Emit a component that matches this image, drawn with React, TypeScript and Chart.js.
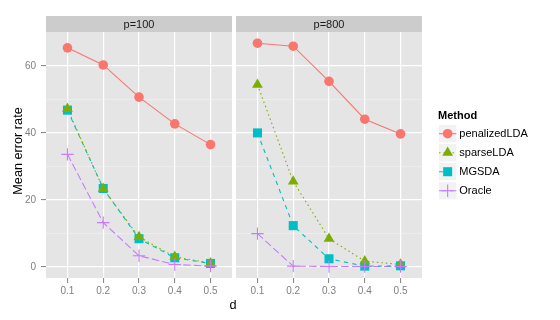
import React, { useEffect, useRef } from 'react';
import { Chart, registerables } from 'chart.js';

Chart.register(...registerables);

// ---------- data ----------
const dValues = [0.1, 0.2, 0.3, 0.4, 0.5];
const methods = ['penalizedLDA', 'sparseLDA', 'MGSDA', 'Oracle'];
const panelLabels = ['p=100', 'p=800'];
const yMajorTicks = [0, 20, 40, 60];
const yMinorTicks = [10, 30, 50];

const p100PenalizedLDA = [65.4, 60.3, 50.7, 42.7, 36.5];
const p100SparseLDA = [47.2, 23.3, 8.9, 3.0, 1.1];
const p100MGSDA = [46.8, 23.4, 8.4, 2.7, 1.0];
const p100Oracle = [33.6, 13.2, 3.3, 0.7, 0.2];

const p800PenalizedLDA = [66.8, 65.9, 55.4, 44.1, 39.7];
const p800SparseLDA = [54.4, 25.5, 8.4, 1.7, 0.7];
const p800MGSDA = [40.0, 12.3, 2.4, 0.2, 0.3];
const p800Oracle = [9.9, 0.2, 0.1, 0.1, 0.1];

const panelSeries = [
  [p100PenalizedLDA, p100SparseLDA, p100MGSDA, p100Oracle],
  [p800PenalizedLDA, p800SparseLDA, p800MGSDA, p800Oracle],
];

// ---------- styles ----------
const FONT = '"Liberation Sans", Arial, Helvetica, sans-serif';
const colors = ['#F8766D', '#7CAE00', '#00BFC4', '#C77CFF'];
const dashes = [[], [1.5, 3], [4.3, 4.3], [7.5, 3.2]];
const pointStyles = ['circle', 'triangle', 'rect', 'cross'];
const pointRadii = [4.8, 6.2, 6.4, 6.2];
const pointOrder = [3, 1, 2, 0];

const allVals = panelSeries.flat(2);
const dataMin = Math.min(0, ...allVals);
const dataMax = Math.max(...allVals);
const yPad = (dataMax - dataMin) * 0.05;
const Y_MIN = dataMin - yPad;
const Y_MAX = dataMax + yPad;
const xStep = dValues[1] - dValues[0];
const X_MIN = dValues[0] - 0.6 * xStep;
const X_MAX = dValues[dValues.length - 1] + 0.6 * xStep;

const yAllTicks = [...yMajorTicks, ...yMinorTicks].sort((a, b) => a - b);
const isMajor = (v: number) => yMajorTicks.includes(v);

function drawShape(ctx: CanvasRenderingContext2D, style: string, x: number, y: number, r: number, color: string) {
  ctx.save();
  ctx.fillStyle = color;
  ctx.strokeStyle = color;
  ctx.lineWidth = 1.1;
  ctx.setLineDash([]);
  ctx.beginPath();
  if (style === 'circle') {
    ctx.arc(x, y, r, 0, Math.PI * 2);
    ctx.fill();
  } else if (style === 'triangle') {
    ctx.moveTo(x, y - r);
    ctx.lineTo(x + 0.866 * r, y + 0.5 * r);
    ctx.lineTo(x - 0.866 * r, y + 0.5 * r);
    ctx.closePath();
    ctx.fill();
  } else if (style === 'rect') {
    const s = Math.SQRT1_2 * r;
    ctx.rect(x - s, y - s, 2 * s, 2 * s);
    ctx.fill();
  } else {
    ctx.moveTo(x - r, y);
    ctx.lineTo(x + r, y);
    ctx.moveTo(x, y - r);
    ctx.lineTo(x, y + r);
    ctx.stroke();
  }
  ctx.restore();
}

function decorPlugin(panelIdx: number) {
  return {
    id: 'decor' + panelIdx,
    beforeDraw(chart: any) {
      const { ctx, chartArea: a } = chart;
      ctx.save();
      ctx.fillStyle = '#E5E5E5';
      ctx.fillRect(a.left, a.top, a.right - a.left, a.bottom - a.top);
      ctx.fillStyle = '#CCCCCC';
      ctx.fillRect(a.left, 16, a.right - a.left, a.top - 16);
      ctx.fillStyle = '#1A1A1A';
      ctx.font = '11px ' + FONT;
      ctx.textAlign = 'center';
      ctx.textBaseline = 'alphabetic';
      ctx.fillText(panelLabels[panelIdx], (a.left + a.right) / 2, 27.8);
      ctx.restore();
    },
    afterDraw(chart: any) {
      const { ctx } = chart;
      ctx.save();
      ctx.fillStyle = '#000000';
      ctx.font = '12.7px ' + FONT;
      if (panelIdx === 0) {
        ctx.translate(21.7, 151);
        ctx.rotate(-Math.PI / 2);
        ctx.textAlign = 'center';
        ctx.textBaseline = 'alphabetic';
        ctx.fillText('Mean error rate', 0, 0);
      } else {
        ctx.textAlign = 'center';
        ctx.textBaseline = 'alphabetic';
        ctx.fillText('d', 233, 309);
        // legend
        ctx.textAlign = 'left';
        ctx.font = 'bold 11px ' + FONT;
        ctx.fillText('Method', 438, 118.5);
        methods.forEach((m, i) => {
          const cy = 133.7 + i * 19;
          const bx = 439;
          const bw = 17.3;
          ctx.fillStyle = '#F2F2F2';
          ctx.fillRect(bx, cy - bw / 2, bw, bw);
          ctx.save();
          ctx.strokeStyle = colors[i];
          ctx.lineWidth = 1.1;
          ctx.setLineDash(dashes[i]);
          ctx.beginPath();
          ctx.moveTo(bx, cy);
          ctx.lineTo(bx + bw, cy);
          ctx.stroke();
          ctx.restore();
          drawShape(ctx, pointStyles[i], bx + bw / 2, cy, pointRadii[i], colors[i]);
          ctx.fillStyle = '#000000';
          ctx.font = '11px ' + FONT;
          ctx.textBaseline = 'middle';
          ctx.fillText(m, 459.3, cy + 0.5);
        });
      }
      ctx.restore();
    },
  };
}

function makeConfig(panelIdx: number): any {
  const series = panelSeries[panelIdx];
  const datasets: any[] = [];
  methods.forEach((m, i) => {
    datasets.push({
      label: m + '-line',
      data: dValues.map((d, j) => ({ x: d, y: series[i][j] })),
      borderColor: colors[i],
      borderWidth: 1.1,
      borderDash: dashes[i],
      pointRadius: 0,
      fill: false,
      tension: 0,
      order: 20 + i,
    });
  });
  methods.forEach((m, i) => {
    datasets.push({
      label: m,
      data: dValues.map((d, j) => ({ x: d, y: series[i][j] })),
      showLine: false,
      pointStyle: pointStyles[i],
      pointRadius: pointRadii[i],
      pointBackgroundColor: colors[i],
      pointBorderColor: colors[i],
      pointBorderWidth: pointStyles[i] === 'cross' ? 1.1 : 0,
      order: pointOrder[i],
    });
  });
  const first = panelIdx === 0;
  return {
    type: 'line',
    data: { datasets },
    options: {
      responsive: false,
      animation: false,
      events: [],
      layout: {
        padding: { left: first ? 0 : 236, right: first ? 560 - 232 : 560 - 422, top: 32, bottom: 0 },
      },
      plugins: { legend: { display: false }, tooltip: { enabled: false } },
      scales: {
        x: {
          type: 'linear',
          min: X_MIN,
          max: X_MAX,
          afterBuildTicks: (s: any) => {
            s.ticks = dValues.map((v) => ({ value: v }));
          },
          afterFit: (s: any) => {
            s.height = 42;
          },
          ticks: {
            callback: (v: any) => Number(v).toFixed(1),
            color: '#7F7F7F',
            font: { size: 10, family: FONT },
            padding: 2,
            autoSkip: false,
            maxRotation: 0,
          },
          grid: { color: '#FFFFFF', lineWidth: 1.2, tickLength: 5, tickColor: '#7F7F7F', tickWidth: 1 },
          border: { display: false },
        },
        y: {
          type: 'linear',
          min: Y_MIN,
          max: Y_MAX,
          afterBuildTicks: (s: any) => {
            s.ticks = yAllTicks.map((v) => ({ value: v }));
          },
          afterFit: (s: any) => {
            s.width = first ? 46 : 0;
          },
          ticks: {
            display: first,
            callback: (v: any) => (isMajor(v) ? String(v) : ''),
            color: '#7F7F7F',
            font: { size: 10, family: FONT },
            padding: 5,
          },
          grid: {
            color: (c: any) => (c.tick && isMajor(c.tick.value) ? '#FFFFFF' : '#F2F2F2'),
            lineWidth: (c: any) => (c.tick && isMajor(c.tick.value) ? 1.2 : 0.6),
            drawTicks: first,
            tickLength: 5,
            tickColor: (c: any) => (c.tick && isMajor(c.tick.value) ? '#7F7F7F' : 'rgba(0,0,0,0)'),
            tickWidth: 1,
          },
          border: { display: false },
        },
      },
    },
    plugins: [decorPlugin(panelIdx)],
  };
}

export default function App() {
  const ref1 = useRef<HTMLCanvasElement>(null);
  const ref2 = useRef<HTMLCanvasElement>(null);
  useEffect(() => {
    Chart.defaults.font.family = FONT;
    const c1 = new Chart(ref1.current as HTMLCanvasElement, makeConfig(0));
    const c2 = new Chart(ref2.current as HTMLCanvasElement, makeConfig(1));
    return () => {
      c1.destroy();
      c2.destroy();
    };
  }, []);
  return (
    <div style={{ position: 'fixed', left: 0, top: 0, width: 560, height: 320, background: '#FFFFFF' }}>
      <canvas ref={ref1} width={560} height={320} style={{ position: 'absolute', left: 0, top: 0 }} />
      <canvas ref={ref2} width={560} height={320} style={{ position: 'absolute', left: 0, top: 0 }} />
    </div>
  );
}
